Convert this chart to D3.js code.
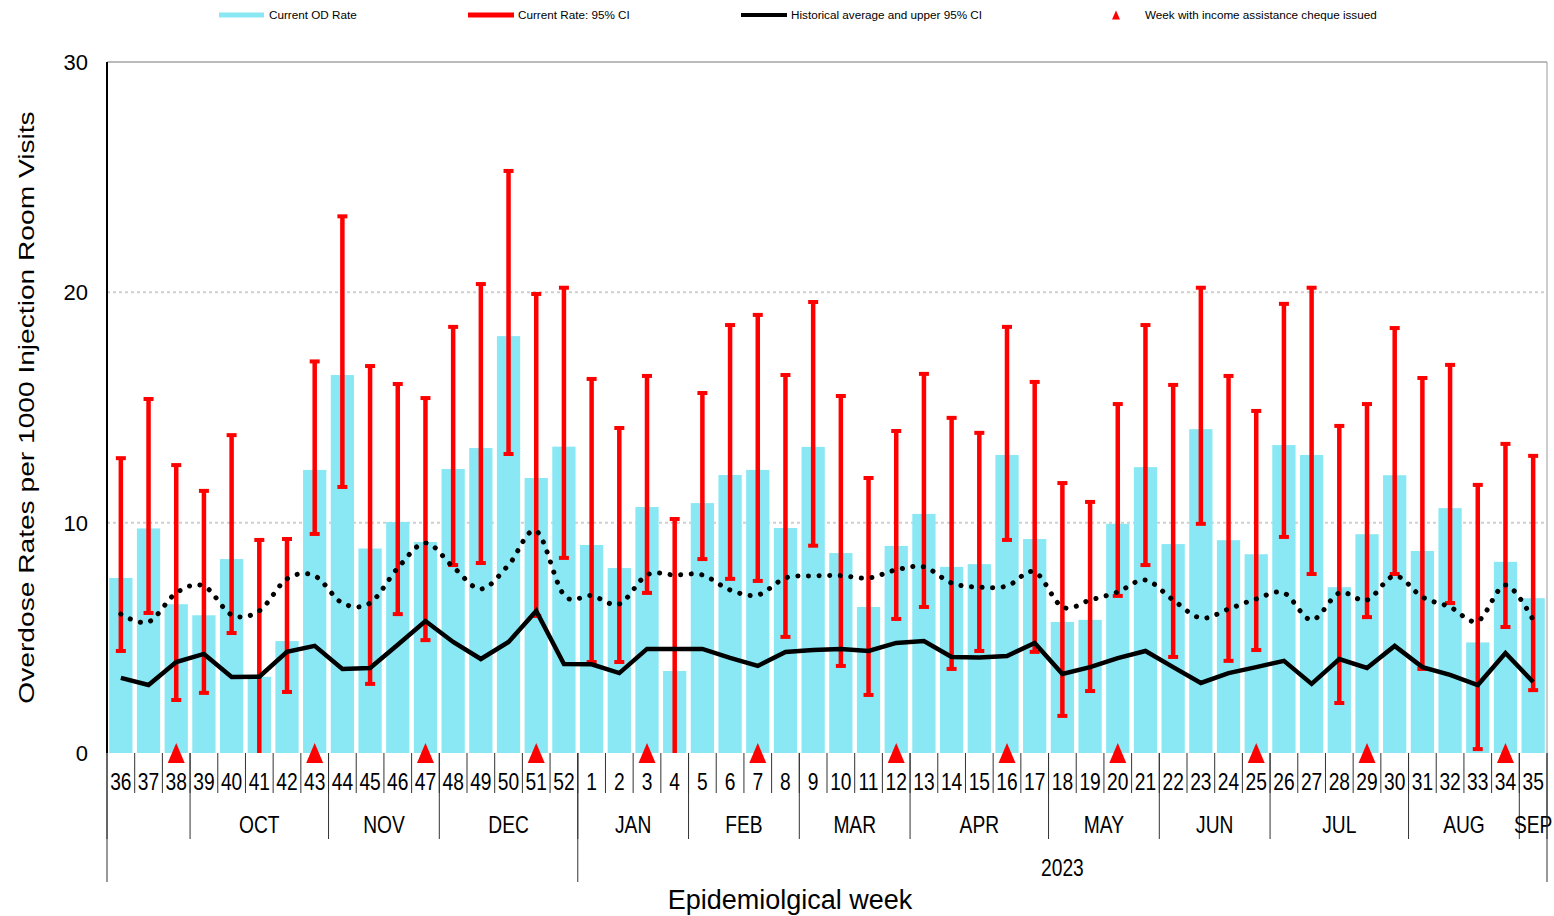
<!DOCTYPE html>
<html>
<head>
<meta charset="utf-8">
<script src="https://cdn.jsdelivr.net/npm/d3@7"></script>
<style>
  body { margin: 0; background: #fff; }
  text { font-family: "Liberation Sans", Arial, sans-serif; fill: #000; }
</style>
</head>
<body>
<div id="chart-area"></div>
<script>
// weeks shown, Sep 2022 -> Sep 2023
var weeks = [36, 37, 38, 39, 40, 41, 42, 43, 44, 45, 46, 47, 48, 49, 50, 51, 52,
  1, 2, 3, 4, 5, 6, 7, 8, 9, 10, 11, 12, 13, 14, 15, 16, 17, 18,
  19, 20, 21, 22, 23, 24, 25, 26, 27, 28, 29, 30, 31, 32, 33, 34, 35];

var odRate = [7.6, 9.75, 6.46, 5.98, 8.42, 3.31, 4.86, 12.29, 16.41, 8.88, 10.03, 9.16, 12.33, 13.24, 18.1, 11.94, 13.3,
  9.03, 8.03, 10.68, 3.56, 10.85, 12.07, 12.29, 9.77, 13.29, 8.68, 6.34, 8.99, 10.38, 8.08, 8.2, 12.94, 9.29, 5.69,
  5.78, 9.95, 12.41, 9.07, 14.06, 9.24, 8.63, 13.37, 12.94, 7.2, 9.5, 12.06, 8.77, 10.63, 4.8, 8.3, 6.72];

var ciLow = [4.43, 6.08, 2.3, 2.61, 5.21, 0, 2.65, 9.51, 11.55, 3.0, 6.03, 4.9, 8.16, 8.25, 12.98, 5.95, 8.47,
  3.95, 3.95, 6.95, 0, 8.42, 7.56, 7.47, 5.04, 9.0, 3.78, 2.52, 5.82, 6.34, 3.65, 4.43, 9.25, 4.39, 1.61,
  2.69, 6.82, 8.16, 4.17, 9.95, 4.0, 4.47, 9.38, 7.77, 2.17, 5.9, 7.77, 3.65, 6.51, 0.17, 5.47, 2.73];

var ciHigh = [12.8, 15.37, 12.5, 11.38, 13.8, 9.25, 9.29, 17.0, 23.3, 16.8, 16.02, 15.41, 18.5, 20.36, 25.27, 19.93, 20.2,
  16.24, 14.11, 16.37, 10.16, 15.63, 18.58, 19.02, 16.41, 19.58, 15.5, 11.94, 13.98, 16.46, 14.55, 13.9, 18.5, 16.11, 11.72,
  10.9, 15.15, 18.58, 15.98, 20.2, 16.37, 14.85, 19.5, 20.2, 14.2, 15.15, 18.45, 16.28, 16.85, 11.64, 13.42, 12.9];

var histAvg = [3.26, 2.95, 3.95, 4.3, 3.3, 3.31, 4.39, 4.65, 3.65, 3.69, 4.7, 5.73, 4.82, 4.08, 4.82, 6.17, 3.86,
  3.85, 3.47, 4.52, 4.52, 4.52, 4.13, 3.78, 4.39, 4.47, 4.52, 4.43, 4.78, 4.86, 4.17, 4.15, 4.21, 4.78, 3.43,
  3.73, 4.12, 4.43, 3.73, 3.04, 3.47, 3.73, 4.0, 3.0, 4.08, 3.69, 4.65, 3.73, 3.39, 2.95, 4.34, 3.08];

var histUpper = [6.03, 5.69, 6.95, 7.25, 6.0, 6.17, 7.56, 7.69, 6.51, 6.51, 8.03, 9.12, 8.08, 7.12, 8.16, 9.64, 6.86,
  6.83, 6.47, 7.73, 7.73, 7.73, 7.08, 6.86, 7.6, 7.69, 7.7, 7.6, 7.95, 8.08, 7.38, 7.2, 7.25, 7.86, 6.34,
  6.64, 6.99, 7.51, 6.64, 5.86, 6.25, 6.69, 6.95, 5.78, 6.95, 6.64, 7.69, 6.77, 6.34, 5.73, 7.29, 5.78];

// weeks with income assistance cheque issued
var chequeWeeks = [38, 43, 47, 51, 3, 7, 12, 16, 20, 25, 29, 34];

// month groups (first week of each) and year groups
var monthLabels = ['', 'OCT', 'NOV', 'DEC', 'JAN', 'FEB', 'MAR', 'APR', 'MAY', 'JUN', 'JUL', 'AUG', 'SEP'];
var monthStart = [36, 39, 44, 48, 1, 5, 9, 13, 18, 22, 26, 31, 35];
var yearLabels = ['', '2023'];
var yearStart = [36, 1];

var yTicks = [0, 10, 20, 30];

var data = weeks.map(function (w, i) {
  return {week: String(w), rate: odRate[i], lo: ciLow[i], hi: ciHigh[i], avg: histAvg[i], up: histUpper[i]};
});

var W = 1554, H = 916;
var margin = {left: 107, right: 7, top: 62, bottom: 163};
var width = W - margin.left - margin.right;
var height = H - margin.top - margin.bottom;

var svg = d3.select('#chart-area')
  .append('svg')
  .attr('width', W)
  .attr('height', H);

var g = svg.append('g')
  .attr('transform', 'translate(' + margin.left + ',' + margin.top + ')');

var x = d3.scaleBand()
  .domain(data.map(function (d) { return d.week; }))
  .range([0, width])
  .paddingInner(0.16)
  .paddingOuter(0.08);

var y = d3.scaleLinear()
  .domain([0, 30])
  .range([height, 0]);

var step = x.step();
var half = (step - x.bandwidth()) / 2;
function edge(w) { return x(String(w)) - half; }
function mid(w) { return x(String(w)) + x.bandwidth() / 2; }

// gridlines
g.selectAll('.grid')
  .data(yTicks.filter(function (t) { return t > 0 && t < 30; }))
  .enter()
  .append('line')
  .attr('x1', 0)
  .attr('x2', width)
  .attr('y1', function (d) { return y(d); })
  .attr('y2', function (d) { return y(d); })
  .attr('stroke', '#cfcfcf')
  .attr('stroke-width', 2)
  .attr('stroke-dasharray', '3 3');

// plot frame (top and right)
g.append('line').attr('x1', 0).attr('x2', width).attr('y1', 0).attr('y2', 0)
  .attr('stroke', '#777').attr('stroke-width', 1);
g.append('line').attr('x1', width).attr('x2', width).attr('y1', 0).attr('y2', height)
  .attr('stroke', '#999').attr('stroke-width', 1);

// bars
g.selectAll('.bar')
  .data(data)
  .enter()
  .append('rect')
  .attr('x', function (d) { return x(d.week); })
  .attr('y', function (d) { return y(d.rate); })
  .attr('width', x.bandwidth())
  .attr('height', function (d) { return height - y(d.rate); })
  .attr('fill', '#8ae8f5');

// error bars
var eb = g.selectAll('.eb')
  .data(data)
  .enter()
  .append('g');
eb.append('line')
  .attr('x1', function (d) { return mid(d.week); })
  .attr('x2', function (d) { return mid(d.week); })
  .attr('y1', function (d) { return y(d.lo); })
  .attr('y2', function (d) { return y(d.hi); })
  .attr('stroke', '#ff0000')
  .attr('stroke-width', 4.5);
eb.append('line')
  .attr('x1', function (d) { return mid(d.week) - 5; })
  .attr('x2', function (d) { return mid(d.week) + 5; })
  .attr('y1', function (d) { return y(d.hi); })
  .attr('y2', function (d) { return y(d.hi); })
  .attr('stroke', '#ff0000')
  .attr('stroke-width', 4);
eb.filter(function (d) { return d.lo > 0; })
  .append('line')
  .attr('x1', function (d) { return mid(d.week) - 5; })
  .attr('x2', function (d) { return mid(d.week) + 5; })
  .attr('y1', function (d) { return y(d.lo); })
  .attr('y2', function (d) { return y(d.lo); })
  .attr('stroke', '#ff0000')
  .attr('stroke-width', 4);

// historical average
var avgLine = d3.line()
  .x(function (d) { return mid(d.week); })
  .y(function (d) { return y(d.avg); });
g.append('path')
  .datum(data)
  .attr('d', avgLine)
  .attr('fill', 'none')
  .attr('stroke', '#000')
  .attr('stroke-width', 4.5)
  .attr('stroke-linejoin', 'miter');

// upper 95% CI, smoothed dotted
var upLine = d3.line()
  .curve(d3.curveCardinal.tension(0))
  .x(function (d) { return mid(d.week); })
  .y(function (d) { return y(d.up); });
g.append('path')
  .datum(data)
  .attr('d', upLine)
  .attr('fill', 'none')
  .attr('stroke', '#000')
  .attr('stroke-width', 5)
  .attr('stroke-linecap', 'round')
  .attr('stroke-dasharray', '0.1 10.5');

// y axis line
g.append('line').attr('x1', 0).attr('x2', 0).attr('y1', 0).attr('y2', height)
  .attr('stroke', '#000').attr('stroke-width', 2);

// cheque triangles
var tri = 'M0,-10L8.5,10L-8.5,10Z';
g.selectAll('.tri')
  .data(chequeWeeks)
  .enter()
  .append('path')
  .attr('d', tri)
  .attr('transform', function (d) { return 'translate(' + mid(d) + ',' + y(0) + ')'; })
  .attr('fill', '#ff0000');

// y tick labels
g.selectAll('.ytick')
  .data(yTicks)
  .enter()
  .append('text')
  .attr('x', -19)
  .attr('y', function (d) { return y(d); })
  .attr('dy', '0.36em')
  .attr('text-anchor', 'end')
  .attr('font-size', '22px')
  .text(function (d) { return d; });

// y title
svg.append('text')
  .attr('transform', 'translate(34,' + (margin.top + height / 2 + 0) + ') rotate(-90) scale(1.28,1)')
  .attr('text-anchor', 'middle')
  .attr('font-size', '22px')
  .text('Overdose Rates per 1000 Injection Room Visits');

// x axis: week boundaries and labels
var axisG = g.append('g').attr('transform', 'translate(0,' + height + ')');
var lastEdge = width;

axisG.selectAll('.wsep')
  .data(weeks.slice(1))
  .enter()
  .append('line')
  .attr('x1', function (d) { return edge(d); })
  .attr('x2', function (d) { return edge(d); })
  .attr('y1', 0)
  .attr('y2', 40)
  .attr('stroke', '#333')
  .attr('stroke-width', 1);

axisG.selectAll('.wlab')
  .data(weeks)
  .enter()
  .append('text')
  .attr('transform', function (d) { return 'translate(' + mid(d) + ',37) scale(0.8,1)'; })
  .attr('text-anchor', 'middle')
  .attr('font-size', '24px')
  .text(function (d) { return d; });

// months
var monthEdges = monthStart.map(function (w) { return edge(w); }).concat([lastEdge]);
axisG.selectAll('.msep')
  .data(monthEdges)
  .enter()
  .append('line')
  .attr('x1', function (d) { return d; })
  .attr('x2', function (d) { return d; })
  .attr('y1', 0)
  .attr('y2', 86)
  .attr('stroke', '#333')
  .attr('stroke-width', 1);

axisG.selectAll('.mlab')
  .data(monthLabels)
  .enter()
  .append('text')
  .attr('transform', function (d, i) {
    return 'translate(' + ((monthEdges[i] + monthEdges[i + 1]) / 2) + ',80) scale(0.8,1)';
  })
  .attr('text-anchor', 'middle')
  .attr('font-size', '24px')
  .text(function (d) { return d; });

// years
var yearEdges = yearStart.map(function (w) { return edge(w); }).concat([lastEdge]);
axisG.selectAll('.ysep')
  .data(yearEdges)
  .enter()
  .append('line')
  .attr('x1', function (d) { return d; })
  .attr('x2', function (d) { return d; })
  .attr('y1', 0)
  .attr('y2', 129)
  .attr('stroke', '#333')
  .attr('stroke-width', 1);

axisG.selectAll('.ylab')
  .data(yearLabels)
  .enter()
  .append('text')
  .attr('transform', function (d, i) {
    return 'translate(' + ((yearEdges[i] + yearEdges[i + 1]) / 2) + ',123) scale(0.8,1)';
  })
  .attr('text-anchor', 'middle')
  .attr('font-size', '24px')
  .text(function (d) { return d; });

// x title
svg.append('text')
  .attr('x', 790)
  .attr('y', 909)
  .attr('text-anchor', 'middle')
  .attr('font-size', '27px')
  .text('Epidemiolgical week');

// legend
var legend = svg.append('g');
legend.append('rect').attr('x', 219).attr('y', 12.5).attr('width', 45).attr('height', 5).attr('fill', '#8ae8f5');
legend.append('text').attr('x', 269).attr('y', 19).attr('font-size', '11.7px').text('Current OD Rate');
legend.append('rect').attr('x', 468).attr('y', 12.5).attr('width', 46).attr('height', 5).attr('fill', '#ff0000');
legend.append('text').attr('x', 518).attr('y', 19).attr('font-size', '11.7px').text('Current Rate: 95% CI');
legend.append('rect').attr('x', 741).attr('y', 13).attr('width', 46).attr('height', 4).attr('fill', '#000');
legend.append('text').attr('x', 791).attr('y', 19).attr('font-size', '11.7px').text('Historical average and upper 95% CI');
legend.append('path').attr('d', 'M0,-4.5L4,4.5L-4,4.5Z').attr('transform', 'translate(1116,15)').attr('fill', '#ff0000');
legend.append('text').attr('x', 1145).attr('y', 19).attr('font-size', '11.7px').text('Week with income assistance cheque issued');
</script>
</body>
</html>
